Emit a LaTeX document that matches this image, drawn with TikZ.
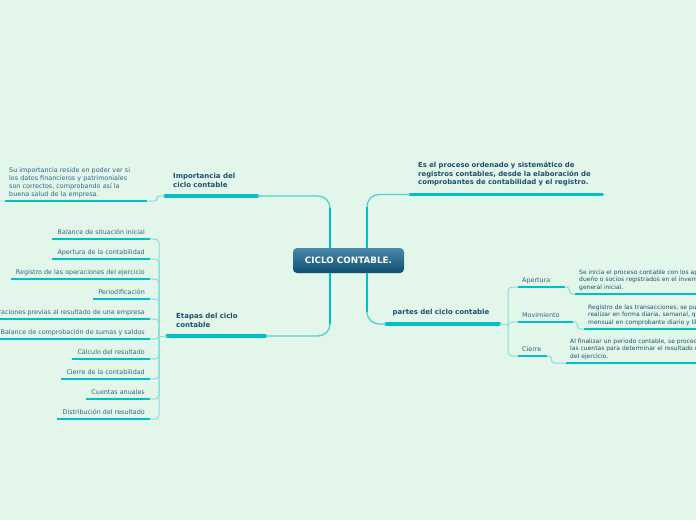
\documentclass[tikz,border=0pt]{standalone}
\usepackage{fontspec}
\setmainfont{DejaVu Sans}
\usetikzlibrary{positioning}

\definecolor{mapbg}{HTML}{E2F7E9}
\definecolor{mapline}{HTML}{00BFC6}
\definecolor{maplink}{HTML}{86DEDD}
\definecolor{maptext}{HTML}{1D4F6F}
\definecolor{mapsub}{HTML}{2E6585}
\definecolor{maptop}{HTML}{4A8AAB}
\definecolor{mapbot}{HTML}{0D4E72}

\tikzset{
  hub/.style={rounded corners=4pt, top color=maptop, bottom color=mapbot,
    text=white, minimum width=111pt, minimum height=25pt,
    font=\fontsize{8.8}{10}\selectfont\bfseries},
  topic/.style={anchor=south west, inner xsep=8pt, inner ysep=8pt, align=left,
    text=maptext, font=\fontsize{7}{8.8}\selectfont\bfseries},
  leaf/.style={inner xsep=5pt, inner ysep=3pt, text height=4.8pt, text depth=1.5pt,
    text=mapsub, font=\fontsize{6.4}{7.6}\selectfont},
  note/.style={anchor=south west, inner xsep=4pt, inner ysep=3pt, align=left,
    text=maptext, font=\fontsize{6}{7.6}\selectfont},
  bar/.style={mapline, line width=3.2pt, line cap=round},
  uline/.style={mapline, line width=2pt},
  twig/.style={maplink, line width=1pt, rounded corners=4pt},
  trunk/.style={maplink!60!mapline, line width=1.3pt, rounded corners=12pt},
  core/.style={mapline, line width=2.6pt, shorten >=12pt},
}

\begin{document}
\begin{tikzpicture}[x=1pt, y=-1pt]
  \useasboundingbox (0,0) rectangle (696,520);
  \clip (0,0) rectangle (696,520);
  \fill[mapbg] (0,0) rectangle (696,520);

  % nodo central
  \node[hub] (ctr) at (348.5,260.5) {CICLO CONTABLE.};
  \coordinate (ctr-nl) at ([xshift=-18.5pt]ctr.north);
  \coordinate (ctr-nr) at ([xshift=18.5pt]ctr.north);
  \coordinate (ctr-sl) at ([xshift=-18.5pt]ctr.south);
  \coordinate (ctr-sr) at ([xshift=18.5pt]ctr.south);

  % temas principales
  \node[topic, text width=76pt] (imp) at (165,196) {Importancia del\\ciclo contable};
  \node[topic, text width=176pt, font=\fontsize{6.9}{8.8}\selectfont\bfseries] (def) at (410,194.5)
    {Es el proceso ordenado y sistemático de\\registros contables, desde la elaboración de\\comprobantes de contabilidad y el registro.};
  \node[topic, inner xsep=9pt, text width=80pt] (eta) at (167,336) {Etapas del ciclo\\contable};
  \node[topic, inner xsep=6.5pt, text width=100pt] (par) at (386,324) {partes del ciclo contable};
  \foreach \n in {imp,def,eta,par}
    \draw[bar] (\n.south west) -- (\n.south east);

  % ramas del centro
  \draw[trunk] (ctr-nl) |- (imp.south east);
  \draw[trunk] (ctr-nr) |- (def.south west);
  \draw[trunk] (ctr-sl) |- (eta.south east);
  \draw[trunk] (ctr-sr) |- (par.south west);
  \draw[core] (ctr-nl) -- (ctr-nl |- imp.south);
  \draw[core] (ctr-nr) -- (ctr-nr |- def.south);
  \draw[core] (ctr-sl) -- (ctr-sl |- eta.south);
  \draw[core] (ctr-sr) -- (ctr-sr |- par.south);

  % importancia
  \node[note, text width=134pt, text=mapsub, font=\fontsize{6.4}{8}\selectfont] (imp-d) at (5,201)
    {Su importancia reside en poder ver si\\los datos financieros y patrimoniales\\son correctos, comprobando así la\\buena salud de la empresa.};
  \draw[uline] (imp-d.south west) -- (imp-d.south east);
  \draw[twig, rounded corners=3pt] (imp.south west) -- ++(-8,0) |- (imp-d.south east);

  % etapas
  \coordinate (eta-hub) at (159,336);
  \draw[twig] (eta.south west) -- (eta-hub);
  \foreach \txt/\yy [count=\i] in {Balance de situación inicial/239,
      Apertura de la contabilidad/259, Registro de las operaciones del ejercicio/279,
      Periodificación/299, Operaciones previas al resultado de una empresa/319,
      Balance de comprobación de sumas y saldos/339, Cálculo del resultado/359,
      Cierre de la contabilidad/379, Cuentas anuales/399, Distribución del resultado/419} {
    \node[leaf, anchor=south east] (eta\i) at (150,\yy) {\txt};
    \draw[twig] (eta-hub) |- (eta\i.south east);
    \draw[uline] (eta\i.south west) -- (eta\i.south east);
  }

  % partes
  \coordinate (par-hub) at (508,324);
  \draw[twig] (par.south east) -- (par-hub);
  \node[leaf, anchor=south west, inner xsep=4pt, text width=39pt] (ape) at (518,287) {Apertura};
  \node[leaf, anchor=south west, inner xsep=4pt, text width=47pt] (mov) at (518,322) {Movimiento};
  \node[leaf, anchor=south west, inner xsep=4pt, text width=21pt] (cie) at (518,356) {Cierre};
  \node[note, text width=200pt] (ape-d) at (575,294)
    {Se inicia el proceso contable con los aportes del\\dueño o socios registrados en el inventario\\general inicial.};
  \node[note, text width=200pt] (mov-d) at (584,329)
    {Registro de las transacciones, se pueden\\realizar en forma diaria, semanal, quincenal o\\mensual en comprobante diario y libros.};
  \node[note, text width=200pt] (cie-d) at (566,363)
    {Al finalizar un periodo contable, se procede a cerrar\\las cuentas para determinar el resultado económico\\del ejercicio.};
  \foreach \n in {ape,mov,cie} {
    \draw[twig] (par-hub) |- (\n.south west);
    \draw[uline] (\n.south west) -- (\n.south east);
    \draw[uline] (\n-d.south west) -- (\n-d.south east);
    \draw[twig, rounded corners=3pt] (\n.south east) -- ++(4,0) |- (\n-d.south west);
  }
\end{tikzpicture}
\end{document}
